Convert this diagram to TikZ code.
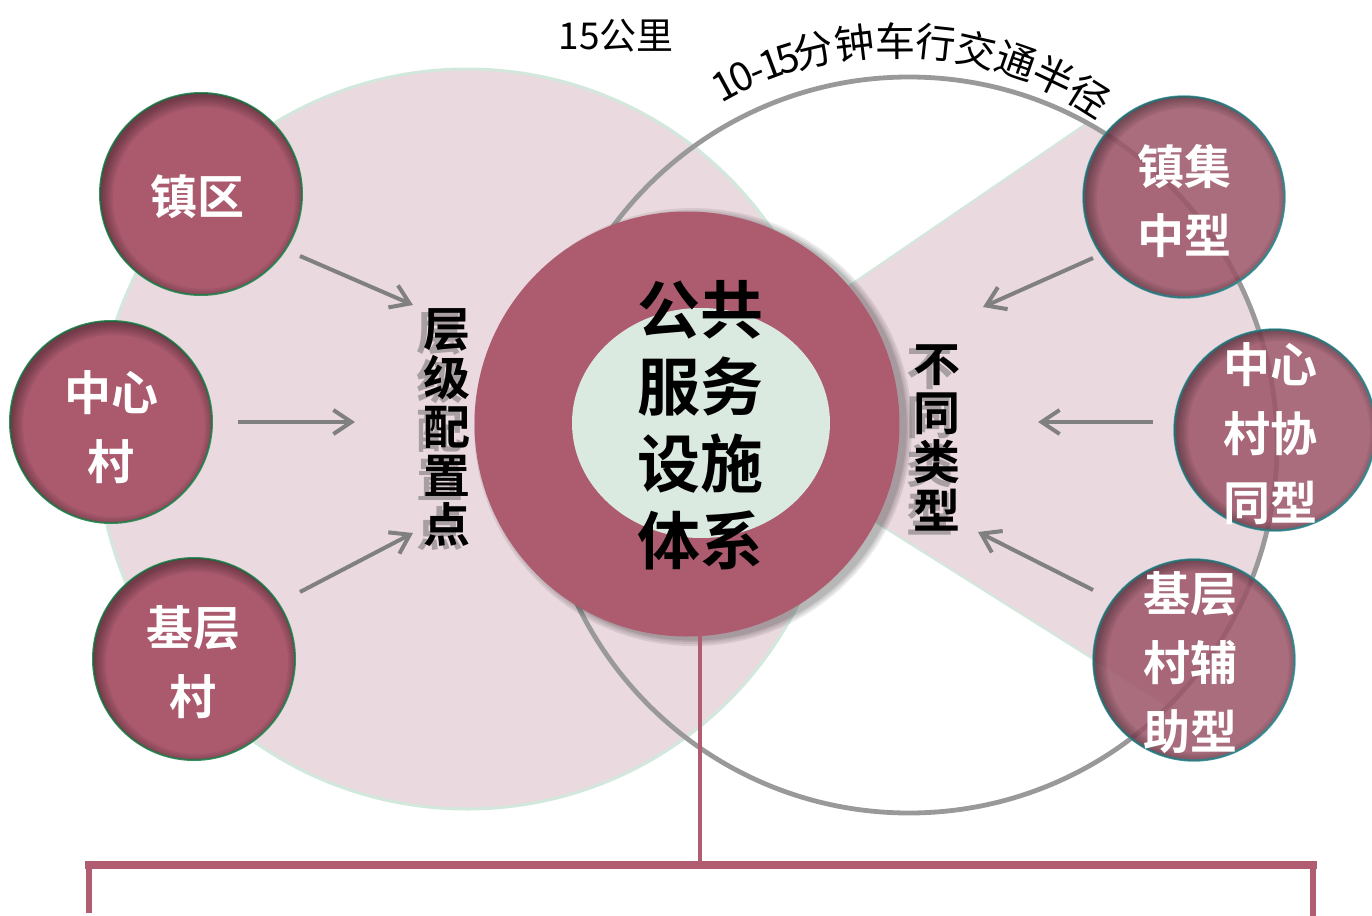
\documentclass[tikz,border=0pt]{standalone}
\usepackage{fontspec}
\newfontfamily\cjk{Noto Sans CJK SC}[BoldFont={Noto Sans CJK SC Bold}]
\usetikzlibrary{arrows.meta,shapes.geometric}
\definecolor{pinkbg}{HTML}{EAD9DE}
\definecolor{mintedge}{HTML}{D3E8DD}
\definecolor{corec}{HTML}{AD5B6F}
\definecolor{mintc}{HTML}{DAEAE1}
\definecolor{lfill}{HTML}{AB5A6E}
\definecolor{ledge}{HTML}{3A8F5E}
\definecolor{rfill}{HTML}{9C5468}
\definecolor{redge}{HTML}{4A9EA6}
\definecolor{grayc}{HTML}{999999}
\definecolor{arrowc}{HTML}{808080}
\definecolor{brkc}{HTML}{B05D72}
\newcommand\myinshade[4]{%
  \begin{scope}
    \clip (#1,#2) circle[radius=50.5pt];
    \foreach \rr in {54.5,53.5,52.5,51.5,50.5,49.5}{
      \draw[line width=8pt, black, opacity=0.06] ({#1+#3},{#2+#4}) circle[radius=\rr pt];
    }
  \end{scope}}
\begin{document}
\begin{tikzpicture}[x=0.5pt,y=-0.5pt,
  lcirc/.style={circle, minimum size=101pt, inner sep=0pt, fill=lfill, draw=ledge, line width=1pt},
  rcirc/.style={circle, minimum size=100.5pt, inner sep=0pt, fill=rfill, fill opacity=0.85, draw=redge, draw opacity=1, line width=1.2pt},
  ctext/.style={text=white, align=center, font=\cjk\bfseries\fontsize{23.5pt}{34.5pt}\selectfont},
  vtext/.style={align=center, font=\cjk\bfseries\fontsize{23.5pt}{24.5pt}\selectfont},
  arr/.style={draw=arrowc, line width=2pt, -{Straight Barb[length=9pt,width=12pt]}},
  arcch/.style={anchor=base, inner sep=0pt, font=\cjk\fontsize{20pt}{22pt}\selectfont},
  brk/.style={draw=brkc}]
\useasboundingbox (0,0) rectangle (1372,916);
\fill[white] (0,0) rectangle (1372,916);

% big pink zone
\node[circle, fill=pinkbg, draw=mintedge, line width=1.5pt, minimum size=370pt, inner sep=0pt] (zone) at (467,439) {};

% funnel
\begin{scope}
  \clip (909,445) circle[radius=184pt];
  \fill[pinkbg] (682,400) -- (1150,80) -- (1400,80) -- (1400,758) -- (1250,758) -- cycle;
  \draw[mintedge, line width=1pt] (682,400) -- (1150,80);
  \draw[mintedge, line width=1pt] (682,400) -- (1250,758);
\end{scope}

% gray ring
\node[circle, draw=grayc, line width=2.4pt, minimum size=368pt, inner sep=0pt] (ring) at (909,445) {};

% core shadow
\foreach \rr in {109.5,108.5,107.5,106.8}{
  \fill[black, opacity=0.08] (693,427) circle[radius=\rr pt];
}
\node[circle, fill=corec, minimum size=212.5pt, inner sep=0pt] (core) at (687,424) {};
\node[ellipse, fill=mintc, minimum width=129pt, minimum height=115pt, inner sep=0pt] (inner) at (701,423) {};
\node[align=center, font=\cjk\bfseries\fontsize{31.5pt}{38.5pt}\selectfont] (coret) at (700,425) {公共\\服务\\设施\\体系};

% vertical labels with shadow
\node[vtext, text=black!60, opacity=0.5] (lvs) at (440,432) {层\\级\\配\\置\\点};
\node[vtext, text=black!60, opacity=0.5] (rvs) at (930,442) {不\\同\\类\\型};
\node[vtext] (lv) at (447,428) {层\\级\\配\\置\\点};
\node[vtext] (rv) at (937,438) {不\\同\\类\\型};

% arrows
\coordinate (a1s) at (300,256); \coordinate (a1e) at (413,305);
\coordinate (a2s) at (238,422); \coordinate (a2e) at (355,422);
\coordinate (a3s) at (300,592); \coordinate (a3e) at (413,533);
\coordinate (b1s) at (1093,258); \coordinate (b1e) at (983,307);
\coordinate (b2s) at (1153,422); \coordinate (b2e) at (1038,422);
\coordinate (b3s) at (1093,590); \coordinate (b3e) at (978,532);
\draw[arr] (a1s) -- (a1e);
\draw[arr] (a2s) -- (a2e);
\draw[arr] (a3s) -- (a3e);
\draw[arr] (b1s) -- (b1e);
\draw[arr] (b2s) -- (b2e);
\draw[arr] (b3s) -- (b3e);

% left circles
\node[lcirc] (zq) at (201,194) {};
\node[lcirc] (zxc) at (111,422) {};
\node[lcirc] (jcc) at (194,659) {};
\myinshade{201}{194}{3}{4}
\myinshade{111}{422}{3}{4}
\myinshade{194}{659}{3}{4}
\node[ctext] (zqt) at (197,197) {镇区};
\node[ctext] (zxct) at (111,427) {中心\\村};
\node[ctext] (jcct) at (193,662) {基层\\村};

% right circles
\node[rcirc] (jz) at (1184,197) {};
\node[rcirc] (xt) at (1275,430) {};
\node[rcirc] (fz) at (1194,660) {};
\myinshade{1184}{197}{4}{2}
\myinshade{1275}{430}{4}{2}
\myinshade{1194}{660}{4}{2}
\node[ctext] (jzt) at (1184,201) {镇集\\中型};
\node[ctext] (xtt) at (1270,434) {中心\\村协\\同型};
\node[ctext] (fzt) at (1190,663) {基层\\村辅\\助型};

% top labels
\node[font=\cjk\fontsize{18.5pt}{20pt}\selectfont] (km) at (616,36) {15公里};
\foreach \ch/\t [count=\i] in {1/-28.5,0/-25.6,-/-22.9,1/-20.5,5/-17.6,分/-13.3,钟/-6.8,车/-0.3,行/6.2,交/12.7,通/19.2,半/25.7,径/32.2}{
  \node[arcch, rotate=-\t] (arc\i) at ({897+347*sin(\t)},{403-347*cos(\t)}) {\ch};
}

% bracket
\coordinate (k0) at (700,632);
\coordinate (k1) at (700,865);
\coordinate (kl) at (85,865);
\coordinate (kr) at (1317,865);
\coordinate (kl1) at (89,865);
\coordinate (kl2) at (89,913);
\coordinate (kr1) at (1313,865);
\coordinate (kr2) at (1313,916);
\draw[brk, line width=2.3pt] (k0) -- (k1);
\draw[brk, line width=4pt] (kl) -- (kr);
\draw[brk, line width=3pt] (kl1) -- (kl2);
\draw[brk, line width=3pt] (kr1) -- (kr2);
\end{tikzpicture}
\end{document}
